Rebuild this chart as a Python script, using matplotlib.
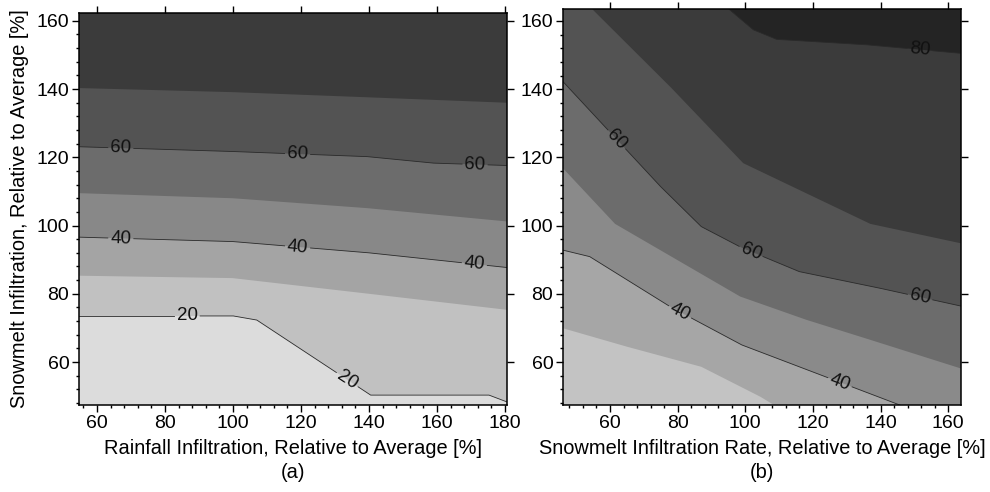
import numpy as np
import matplotlib.pyplot as plt
from matplotlib.ticker import MultipleLocator

plt.rcParams['font.family'] = ['Liberation Sans', 'DejaVu Sans']

# band edges, (x, y) points
# (a) rainfall vs snowmelt infiltration
a_20 = [(54.7, 73.5), (100.1, 73.5), (107.0, 72.3), (140.5, 50.3), (175.3, 50.3), (180.6, 48.3)]
a_30 = [(54.7, 85.3), (99.8, 84.6), (140.0, 80.0), (180.6, 75.3)]
a_40 = [(54.7, 96.6), (100.0, 95.3), (140.0, 92.0), (180.6, 87.7)]
a_50 = [(54.7, 109.5), (100.0, 108.0), (139.5, 105.1), (180.6, 101.2)]
a_60 = [(54.7, 123.1), (100.0, 121.7), (139.5, 120.2), (159.0, 118.3), (180.6, 117.6)]
a_70 = [(54.7, 140.3), (100.0, 139.1), (139.5, 137.6), (180.6, 136.0)]

# (b) snowmelt infiltration rate vs snowmelt infiltration
b_30 = [(46.1, 69.9), (65.0, 64.5), (87.0, 58.6), (104.5, 49.8), (110.0, 46.5)]
b_40 = [(46.1, 92.8), (54.0, 90.9), (78.0, 76.1), (99.0, 65.0), (147.0, 46.9)]
b_50 = [(46.1, 116.8), (61.5, 100.5), (98.5, 79.2), (118.0, 72.4), (137.0, 66.5), (163.8, 58.1)]
b_60 = [(46.1, 142.2), (75.0, 111.4), (87.0, 99.7), (99.0, 93.5), (116.0, 86.5), (140.0, 81.6), (163.8, 76.4)]
b_70 = [(54.6, 163.6), (78.0, 140.5), (99.4, 118.3), (137.0, 100.5), (163.8, 94.8)]
b_80 = [(95.0, 163.6), (102.4, 157.4), (109.3, 154.6), (136.0, 153.0), (163.8, 150.5)]

a_lines = [a_20, a_30, a_40, a_50, a_60, a_70]
a_shades = ['#c1c1c1', '#a4a4a4', '#888888', '#6c6c6c', '#535353', '#3b3b3b']
a_base = '#dcdcdc'

b_lines = [b_30, b_40, b_50, b_60, b_70, b_80]
b_shades = ['#a6a6a6', '#8a8a8a', '#6c6c6c', '#535353', '#3b3b3b', '#242424']
b_base = '#c3c3c3'


def fill_bands(ax, lines, shades, base):
    ax.set_facecolor(base)
    far = 1000
    for pts, c in zip(lines, shades):
        poly = [(-far, pts[0][1])] + list(pts) + [(far, pts[-1][1]), (far, far), (-far, far)]
        px, py = zip(*poly)
        ax.fill(px, py, color=c, lw=0)


def labeled_line(ax, pts, xs_lab, text, gap=13):
    xy = np.array(pts, float)
    d = ax.transData.transform(xy)
    s = np.concatenate([[0], np.cumsum(np.hypot(*np.diff(d, axis=0).T))])
    cuts = []
    for xl in xs_lab:
        yl = np.interp(xl, xy[:, 0], xy[:, 1])
        p = ax.transData.transform((xl, yl))
        i = int(np.clip(np.searchsorted(xy[:, 0], xl) - 1, 0, len(xy) - 2))
        sl = s[i] + np.hypot(*(p - d[i]))
        v = d[i + 1] - d[i]
        ang = np.degrees(np.arctan2(v[1], v[0]))
        ax.text(xl, yl, text, rotation=ang, rotation_mode='anchor',
                ha='center', va='center', fontsize=13.5, color='#111111')
        cuts.append((sl - gap, sl + gap))
    edges = [0.0] + [c for g in sorted(cuts) for c in g] + [s[-1]]
    inv = ax.transData.inverted()
    for a, b in zip(edges[0::2], edges[1::2]):
        if b <= a:
            continue
        inside = (s > a) & (s < b)
        pa = [np.interp(a, s, d[:, 0]), np.interp(a, s, d[:, 1])]
        pb = [np.interp(b, s, d[:, 0]), np.interp(b, s, d[:, 1])]
        piece = inv.transform(np.vstack([pa, d[inside], pb]))
        ax.plot(piece[:, 0], piece[:, 1], color='#2a2a2a', lw=0.6)


def style(ax):
    ax.xaxis.set_major_locator(MultipleLocator(20))
    ax.yaxis.set_major_locator(MultipleLocator(20))
    ax.xaxis.set_minor_locator(MultipleLocator(4))
    ax.yaxis.set_minor_locator(MultipleLocator(4))
    ax.tick_params(which='major', direction='out', length=5, width=1,
                   top=True, right=True, labelsize=14, pad=2)
    ax.tick_params(which='minor', direction='out', length=2.5, width=1,
                   top=False, right=False)
    for sp in ax.spines.values():
        sp.set_linewidth(1.1)


fig = plt.figure(figsize=(9.9, 4.92), dpi=100)
ax1 = fig.add_axes([79 / 990, 1 - 405 / 492, 428 / 990, 392 / 492])
ax2 = fig.add_axes([563 / 990, 1 - 405 / 492, 398 / 990, 396 / 492])

ax1.set_xlim(54.7, 180.6)
ax1.set_ylim(47.4, 162.3)
ax2.set_xlim(46.1, 163.8)
ax2.set_ylim(47.4, 163.5)

fill_bands(ax1, a_lines, a_shades, a_base)
fill_bands(ax2, b_lines, b_shades, b_base)

labeled_line(ax1, a_20, [86.5, 133.6], '20')
labeled_line(ax1, a_40, [67, 119, 171], '40')
labeled_line(ax1, a_60, [67, 119, 171.2], '60')

labeled_line(ax2, b_40, [80.7, 128], '40')
labeled_line(ax2, b_60, [62, 101.7, 151.7], '60')
labeled_line(ax2, b_80, [151.7], '80')

for ax in (ax1, ax2):
    style(ax)
ax1.set_xlim(54.7, 180.6)
ax1.set_ylim(47.4, 162.3)
ax2.set_xlim(46.1, 163.8)
ax2.set_ylim(47.4, 163.5)

fig.text(20 / 990, 1 - 209 / 492, 'Snowmelt Infiltration, Relative to Average [%]',
         rotation=90, ha='center', va='center', fontsize=14.4)
fig.text(293 / 990, 1 - 449 / 492, 'Rainfall Infiltration, Relative to Average [%]',
         ha='center', va='center', fontsize=14.4)
fig.text(762 / 990, 1 - 449 / 492, 'Snowmelt Infiltration Rate, Relative to Average [%]',
         ha='center', va='center', fontsize=14.4)
fig.text(293 / 990, 1 - 473 / 492, '(a)', ha='center', va='center', fontsize=14.4)
fig.text(762 / 990, 1 - 473 / 492, '(b)', ha='center', va='center', fontsize=14.4)

fig.savefig('out.png', dpi=100)
